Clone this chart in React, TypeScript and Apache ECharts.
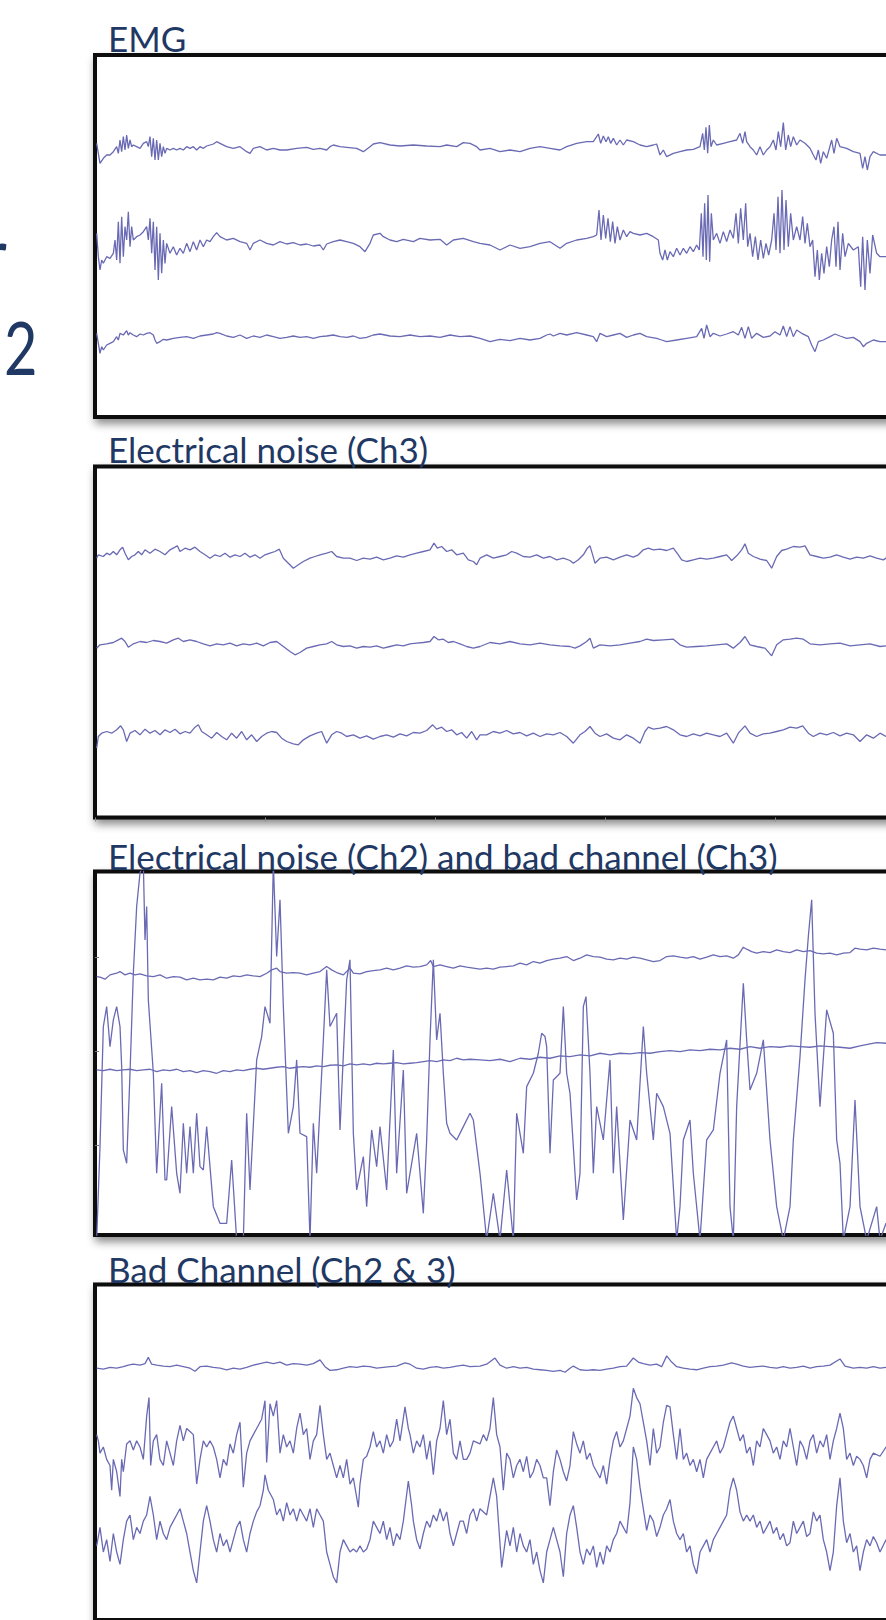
import React, { useEffect, useRef } from "react";
import * as echarts from "echarts";

// Sampled at 510 Hz; x = sample index, y = amplitude (µV) around each channel's baseline
const SAMPLE_RATE = 510;
const SECONDS = 5;

const panelTitles = [
  "EMG",
  "Electrical noise (Ch3)",
  "Electrical noise (Ch2) and bad channel (Ch3)",
  "Bad Channel (Ch2 & 3)",
];
const sideLabels = ["r", "2"];

// ---------- Panel 1: EMG ----------
const emgCh1 = [
  [5,15],[10,-15],[15,-45],[25,-30],[35,-20],[45,-20],[55,-10],[65,5],[70,-15],[75,25],[80,-10],[85,35],[90,-5],[95,40],[100,0],[105,25],[110,5],[115,10],[125,5],[135,0],[145,15],[155,20],[160,5],[165,35],[170,-25],[175,30],[180,-35],[185,25],[190,-35],[195,15],[200,-25],[205,5],[210,-15],[215,0],[225,-5],[235,0],[245,-5],[255,0],[265,-5],[275,5],[285,0],[295,5],[305,-5],[315,5],[325,0],[335,7],[355,13],[365,20],[375,15],[395,5],[415,0],[435,5],[455,-10],[465,-15],[475,0],[495,5],[515,-5],[535,0],[555,-5],[575,-5],[605,0],[635,3],[655,-3],[675,0],[695,-5],[705,5],[715,10],[735,5],[755,3],[785,0],[805,-10],[825,5],[835,13],[855,17],[885,10],[915,7],[955,10],[995,7],[1035,5],[1055,10],[1085,5],[1105,17],[1125,15],[1145,5],
  [1155,-5],[1185,0],[1215,-10],[1245,-5],[1275,-10],[1305,0],[1335,5],[1365,0],[1395,-5],[1415,5],[1445,15],[1475,20],[1495,20],[1510,43],[1517,15],[1525,37],[1533,20],[1540,35],[1547,15],[1555,30],[1565,10],[1575,25],[1585,10],[1595,25],[1615,20],[1635,10],[1655,5],[1675,10],[1685,13],[1695,-20],[1705,-5],[1715,-25],[1735,-15],[1755,-10],[1775,-5],[1795,-3],[1815,5],[1823,45],[1828,-5],[1833,63],[1838,-15],[1843,70],[1848,5],[1855,25],[1865,10],[1885,15],[1905,20],[1925,25],[1935,45],[1943,15],[1950,50],[1955,20],[1965,5],[1975,-5],[1985,-20],[1995,5],[2005,-20],[2015,-5],[2025,5],[2035,25],[2043,-5],[2050,50],[2057,5],[2065,77],[2072,-5],[2080,40],[2087,5],[2095,35],[2105,10],[2115,25],[2130,15],[2145,0],[2155,-20],[2163,-35],[2170,-5],[2177,-45],[2185,-10],[2195,-30],[2210,25],[2217,-15],[2225,30],[2235,5],[2255,0],[2275,-10],[2295,-15],[2303,-60],[2310,-25],[2317,-65],[2325,-25],[2335,-10],[2355,-20],[2373,-20],[2400,-15],
];
const emgCh2 = [
  [5,30],[10,-40],[15,-80],[20,-50],[25,-60],[35,-40],[45,-45],[55,-30],[60,10],[65,-50],[70,65],[75,-60],[80,80],[85,-40],[90,50],[95,10],[100,95],[105,-10],[110,50],[115,10],[125,20],[135,25],[145,35],[155,50],[160,10],[165,75],[170,-30],[175,65],[180,-80],[185,50],[190,-110],[195,30],[200,-90],[205,10],[210,-60],[215,0],[225,-30],[235,-10],[245,-35],[255,-15],[265,-30],[275,0],[285,-25],[295,5],[305,-20],[315,10],[325,-10],[335,10],[345,5],[355,20],[365,32],[375,20],[395,10],[415,15],[435,5],[455,0],[465,-20],[475,0],[495,10],[515,0],[535,-5],[555,5],[575,-2],[595,2],[615,-5],[635,-2],[655,-8],[675,-5],[685,-20],[695,-2],[715,5],[735,10],[755,5],[775,0],[795,-10],[810,-25],[825,0],[835,25],[855,30],[865,20],[885,10],[905,5],[925,12],[955,5],[975,15],[1005,10],[1035,12],[1055,-5],[1075,10],[1105,15],[1135,5],[1155,0],
  [1185,-5],[1215,-20],[1245,-5],[1275,-15],[1305,-10],[1335,0],[1365,5],[1395,-15],[1415,0],[1445,10],[1475,15],[1495,20],[1505,25],[1512,100],[1518,10],[1525,85],[1532,15],[1539,75],[1546,5],[1553,65],[1560,0],[1567,50],[1575,10],[1585,40],[1595,20],[1605,35],[1615,30],[1635,25],[1655,30],[1675,20],[1690,10],[1695,-30],[1703,-50],[1710,-20],[1717,-50],[1725,-25],[1735,-40],[1745,-15],[1755,-35],[1765,-15],[1775,-30],[1785,-10],[1795,-25],[1805,-5],[1813,-20],[1819,90],[1824,-40],[1829,120],[1834,-50],[1839,145],[1844,-55],[1849,90],[1855,10],[1865,30],[1875,0],[1885,35],[1895,5],[1905,40],[1915,15],[1923,90],[1930,0],[1937,105],[1945,10],[1952,120],[1958,-10],[1965,30],[1973,-40],[1981,20],[1989,-50],[1997,10],[2005,-45],[2013,0],[2021,-35],[2030,10],[2037,90],[2043,-20],[2049,140],[2055,-30],[2061,160],[2067,-20],[2073,130],[2080,-10],[2087,90],[2095,10],[2105,50],[2115,10],[2123,80],[2130,0],[2137,60],[2145,-10],[2153,10],[2160,-100],[2167,-20],[2173,-110],[2180,-30],[2187,-90],[2195,-10],[2203,-70],[2210,10],[2217,50],[2223,-70],[2229,65],[2235,-80],[2243,30],[2250,-40],[2260,0],[2275,-20],[2290,-10],[2297,-130],[2303,20],[2310,-140],[2317,10],[2325,-90],[2333,25],[2345,-30],[2355,-40],[2373,-40],[2400,-30],
];
const emgCh3 = [
  [5,10],[10,-20],[15,-50],[20,-30],[25,-40],[35,-25],[45,-20],[55,-15],[65,0],[70,-10],[75,10],[85,5],[95,18],[100,5],[105,12],[115,5],[125,0],[135,8],[145,5],[155,10],[165,12],[175,5],[180,-10],[185,-20],[195,-15],[205,-8],[215,-10],[235,-5],[255,-2],[275,0],[295,-5],[315,2],[335,5],[355,8],[365,12],[375,10],[395,2],[415,-2],[435,5],[455,-5],[475,2],[495,-2],[515,5],[535,0],[555,-5],[575,-2],[595,2],[615,-2],[635,0],[655,-5],[675,0],[695,2],[715,5],[735,0],[755,-2],[775,2],[795,-5],[815,-2],[835,5],[855,8],[885,2],[915,0],[945,5],[975,0],[1005,2],[1035,-2],[1065,5],[1095,0],[1125,2],[1155,-5],
  [1185,-15],[1215,-8],[1245,-12],[1275,-5],[1305,-10],[1335,-5],[1355,5],[1365,8],[1375,2],[1395,10],[1415,5],[1445,12],[1475,5],[1495,0],[1505,-15],[1515,10],[1535,0],[1555,5],[1575,10],[1595,-2],[1615,5],[1635,10],[1655,0],[1685,-5],[1700,-10],[1715,-15],[1745,-10],[1775,-5],[1805,0],[1820,25],[1827,-5],[1835,35],[1845,0],[1855,10],[1875,2],[1895,8],[1915,15],[1930,5],[1940,28],[1950,-5],[1960,30],[1970,-5],[1985,10],[2005,-2],[2025,2],[2040,15],[2055,5],[2065,32],[2075,0],[2085,30],[2095,0],[2105,20],[2120,10],[2140,0],[2150,-25],[2160,-45],[2170,-15],[2185,-10],[2205,0],[2220,8],[2235,2],[2255,-5],[2275,-2],[2295,-15],[2305,-30],[2315,-20],[2335,-10],[2355,-15],[2373,-15],[2400,-10],
];

// ---------- Panel 2: electrical noise (Ch3) ----------
const noiseCh1 = [
  [5,-10],[10,0],[25,-5],[35,5],[45,0],[55,10],[65,0],[75,15],[83,23],[90,5],[100,-15],[110,-5],[120,0],[130,10],[140,0],[150,15],[165,5],[180,17],[195,10],[210,0],[225,15],[240,23],[247,27],[255,10],[270,20],[285,15],[300,23],[315,10],[330,0],[345,-10],[360,0],[375,-5],[390,5],[405,-7],[420,0],[435,-5],[450,5],[465,-7],[480,0],[495,-10],[510,0],[525,5],[540,10],[553,17],[565,-10],[580,-25],[595,-40],[610,-30],[625,-20],[645,-10],[660,-5],[675,0],[695,5],[710,10],[725,-5],[745,-10],[765,-10],[785,-17],[805,-10],[825,-13],[845,-7],[865,-15],[885,-10],[905,-3],[925,-7],[945,0],[965,5],[985,10],[1005,15],[1017,35],[1027,20],[1040,25],[1055,10],[1070,15],[1085,0],[1105,5],[1120,-15],[1135,-20],[1145,-30],[1155,-10],
  [1175,0],[1195,-10],[1215,-5],[1235,0],[1250,10],[1265,5],[1285,-5],[1305,-7],[1325,0],[1345,-10],[1365,-5],[1385,-15],[1405,-10],[1425,-17],[1435,-25],[1450,-15],[1465,0],[1477,20],[1485,27],[1493,0],[1500,-25],[1515,-10],[1535,-7],[1555,-15],[1575,-7],[1595,0],[1615,-7],[1630,0],[1645,15],[1660,20],[1675,15],[1695,17],[1715,13],[1735,20],[1750,0],[1760,-15],[1775,-20],[1795,-15],[1815,-10],[1835,-13],[1855,-10],[1875,-5],[1895,0],[1910,-17],[1925,-3],[1940,15],[1950,33],[1960,5],[1975,-5],[1995,-13],[2015,-17],[2030,-40],[2045,-5],[2060,13],[2075,17],[2095,25],[2115,23],[2130,27],[2145,0],[2165,-5],[2185,-10],[2205,-7],[2225,0],[2245,-7],[2265,-13],[2285,-7],[2305,-10],[2325,-3],[2345,-10],[2365,-15],[2373,-10],[2400,-5],
];
const noiseCh2 = [
  [5,-10],[15,0],[35,3],[55,7],[70,15],[80,20],[90,10],[100,-7],[115,3],[135,10],[155,7],[175,13],[195,10],[215,5],[235,15],[250,20],[265,10],[285,15],[305,10],[325,3],[345,-3],[365,3],[385,0],[405,5],[425,-3],[445,3],[465,0],[485,5],[505,-3],[525,7],[545,10],[565,-5],[585,-20],[600,-30],[615,-23],[635,-10],[655,-5],[675,0],[695,3],[710,10],[725,0],[745,-5],[765,-3],[785,-10],[805,-5],[825,-7],[845,-3],[865,-10],[885,-5],[905,0],[925,-3],[945,3],[965,5],[985,7],[1005,10],[1017,25],[1030,15],[1045,17],[1060,7],[1075,10],[1095,3],[1115,-5],[1135,-10],[1155,-5],
  [1185,7],[1215,3],[1245,10],[1275,3],[1305,0],[1335,5],[1365,0],[1395,-3],[1425,-5],[1440,-10],[1455,-3],[1475,10],[1485,20],[1495,-10],[1515,0],[1545,-3],[1575,0],[1605,5],[1635,10],[1655,17],[1675,13],[1705,15],[1735,17],[1755,0],[1775,-7],[1805,-5],[1835,-3],[1865,0],[1895,3],[1915,-10],[1935,7],[1950,25],[1965,0],[1985,-5],[2010,-10],[2030,-33],[2045,0],[2065,15],[2085,17],[2105,20],[2125,17],[2145,3],[2175,0],[2205,3],[2235,5],[2265,-3],[2295,0],[2325,3],[2355,-5],[2373,-3],[2400,0],
];
const noiseCh3 = [
  [5,-45],[10,-10],[20,0],[35,5],[50,0],[65,10],[77,22],[85,10],[95,-25],[105,0],[120,8],[135,-5],[150,12],[165,0],[180,8],[195,-5],[210,10],[225,2],[240,12],[255,-2],[270,5],[285,0],[300,18],[310,25],[320,5],[335,-5],[350,-15],[365,2],[380,-10],[395,-20],[410,0],[425,-15],[440,5],[455,-20],[470,-5],[485,-25],[500,-10],[515,0],[530,5],[545,2],[560,-15],[575,-25],[595,-32],[610,-35],[625,-20],[645,-8],[665,0],[680,5],[695,-30],[710,-5],[725,5],[740,0],[755,-10],[775,-5],[795,-15],[815,-8],[835,-18],[855,-10],[875,-5],[895,-12],[915,-2],[935,-8],[955,2],[975,0],[995,8],[1013,25],[1025,12],[1040,18],[1055,5],[1070,10],[1085,-5],[1100,2],[1115,-15],[1130,5],[1145,-20],[1155,-5],
  [1175,-5],[1195,5],[1215,0],[1235,8],[1255,-2],[1275,2],[1295,-8],[1315,0],[1335,-10],[1355,-2],[1375,-5],[1395,2],[1415,-10],[1435,-30],[1455,-5],[1470,5],[1485,20],[1500,0],[1515,-10],[1535,-2],[1555,-15],[1575,-20],[1595,-5],[1615,-15],[1635,-30],[1650,5],[1660,18],[1675,12],[1695,15],[1715,20],[1735,10],[1755,-5],[1775,-10],[1795,-2],[1815,-8],[1835,0],[1855,-5],[1875,-10],[1895,0],[1915,-30],[1930,0],[1950,22],[1965,0],[1985,-10],[2005,-2],[2025,0],[2045,5],[2065,10],[2085,18],[2105,15],[2123,22],[2140,0],[2155,-10],[2175,0],[2195,-5],[2215,2],[2235,-8],[2255,0],[2275,-5],[2295,-25],[2315,-5],[2335,-15],[2355,0],[2373,-10],[2400,-5],
];

// ---------- Panel 3: electrical noise (Ch2) + bad channel (Ch3) ----------
const mixedCh1 = [
  [5,0],[15,-2],[30,-8],[45,5],[65,10],[75,15],[90,5],[105,10],[120,5],[135,8],[155,2],[175,0],[195,5],[215,-5],[235,0],[255,-2],[275,-10],[295,-5],[315,-10],[335,-8],[355,-10],[375,-2],[395,-5],[415,2],[435,0],[455,5],[475,2],[495,0],[515,10],[530,20],[545,25],[555,15],[575,10],[595,12],[615,10],[635,5],[655,10],[675,15],[695,30],[710,20],[725,12],[745,5],[765,25],[775,10],[795,8],[815,15],[835,18],[855,20],[875,25],[895,20],[915,25],[935,32],[955,28],[975,30],[995,35],[1007,48],[1015,30],[1035,35],[1055,30],[1075,25],[1095,32],[1115,28],[1135,25],[1155,22],
  [1175,25],[1195,22],[1215,28],[1235,30],[1255,32],[1275,40],[1295,35],[1315,45],[1335,40],[1355,48],[1375,52],[1395,55],[1415,60],[1435,48],[1455,55],[1475,65],[1495,60],[1515,58],[1535,52],[1555,50],[1575,55],[1595,52],[1615,58],[1635,55],[1655,50],[1675,45],[1695,48],[1715,60],[1735,62],[1755,58],[1775,55],[1795,60],[1815,52],[1835,58],[1855,65],[1875,60],[1895,62],[1915,55],[1930,65],[1945,88],[1955,82],[1970,75],[1985,70],[2005,75],[2025,72],[2045,80],[2065,75],[2085,72],[2105,80],[2125,75],[2145,78],[2165,70],[2185,68],[2205,70],[2225,65],[2245,70],[2265,72],[2280,85],[2295,82],[2315,80],[2335,85],[2355,82],[2373,80],[2400,82],
];
const mixedCh2 = [
  [5,0],[25,-2],[45,2],[65,-2],[85,0],[105,2],[125,-2],[145,0],[165,2],[185,-5],[205,0],[225,-2],[245,2],[265,-5],[285,-2],[305,-8],[325,-2],[345,-5],[365,-10],[385,-2],[405,-5],[425,0],[445,-2],[465,2],[485,5],[505,2],[525,5],[545,8],[565,10],[585,5],[605,8],[625,10],[645,8],[665,12],[685,10],[705,14],[725,15],[745,12],[765,18],[785,15],[805,18],[825,15],[845,20],[865,18],[885,20],[905,22],[925,18],[945,20],[965,22],[985,25],[1005,28],[1025,25],[1045,30],[1065,28],[1085,35],[1105,30],[1125,32],[1155,30],
  [1185,28],[1215,32],[1245,25],[1275,35],[1305,32],[1335,38],[1365,35],[1395,42],[1425,40],[1455,45],[1485,42],[1515,50],[1545,45],[1575,50],[1605,48],[1635,52],[1665,50],[1695,55],[1725,58],[1755,55],[1785,60],[1815,58],[1845,62],[1875,60],[1905,65],[1935,62],[1965,70],[1995,65],[2025,70],[2055,68],[2085,72],[2115,70],[2145,68],[2175,72],[2205,70],[2235,68],[2265,65],[2295,72],[2325,78],[2345,82],[2373,80],[2400,80],
];
const mixedCh3 = [
  [5,-300],[15,-20],[25,340],[35,400],[45,280],[55,360],[65,400],[75,340],[80,220],[85,-30],[95,-70],[105,200],[115,500],[125,700],[135,800],[145,830],[150,600],[155,700],[160,420],[175,200],[185,-100],[200,170],[210,-120],[215,-120],[230,100],[245,-100],[255,-160],[265,50],[275,-100],[285,40],[295,-100],[305,80],[315,-80],[325,-90],[335,40],[355,-200],[375,-250],[395,-250],[410,-60],[425,-300],[445,-300],[455,80],[465,-150],[485,240],[500,310],[510,400],[525,350],[535,830],[545,550],[555,720],[565,400],[580,20],[595,100],[605,240],[615,20],[635,10],[645,-300],[655,50],[665,-100],[685,300],[695,510],[705,340],[725,380],[735,30],[755,480],[765,540],[775,20],[785,-150],[805,-50],[815,-200],[830,30],[845,-80],[855,40],[875,-150],[895,270],[905,-100],[925,210],[935,-160],[945,-100],[965,20],[985,-220],[995,0],[1005,300],[1015,540],[1025,300],[1035,380],[1045,200],[1055,50],[1065,20],[1085,0],[1105,40],[1125,80],[1135,60],[1155,-100],
  [1175,-300],[1195,-160],[1215,-300],[1235,-90],[1255,-300],[1265,80],[1285,-40],[1295,160],[1315,200],[1330,260],[1340,320],[1350,310],[1355,280],[1365,-40],[1375,180],[1395,200],[1405,400],[1415,200],[1425,140],[1445,-180],[1455,-100],[1465,400],[1473,430],[1485,200],[1495,-100],[1505,100],[1525,0],[1545,240],[1555,-100],[1565,100],[1585,-240],[1605,60],[1625,0],[1645,340],[1655,200],[1675,0],[1685,140],[1705,100],[1725,20],[1745,-300],[1755,-200],[1765,0],[1785,60],[1795,-100],[1815,-300],[1835,0],[1855,30],[1875,200],[1895,300],[1905,-200],[1915,-300],[1925,100],[1945,470],[1955,300],[1965,150],[1985,200],[2005,300],[2025,0],[2045,-200],[2065,-300],[2085,-200],[2095,0],[2115,250],[2130,480],[2140,610],[2150,720],[2160,380],[2175,100],[2195,390],[2215,320],[2225,0],[2235,-70],[2245,-300],[2265,-200],[2280,120],[2295,-200],[2315,-300],[2345,-200],[2355,-300],[2373,-250],[2400,-300],
];

// ---------- Panel 4: bad channel (Ch2 & 3) ----------
const badCh1 = [
  [5,-5],[25,-8],[45,-2],[65,-5],[85,0],[100,5],[115,8],[135,5],[150,10],[160,30],[170,8],[185,5],[205,2],[225,0],[245,5],[265,0],[285,-5],[300,-15],[315,0],[335,2],[355,-2],[375,-5],[395,-10],[415,-5],[435,-8],[455,-2],[475,5],[495,10],[515,15],[535,10],[555,15],[575,5],[595,10],[615,8],[635,5],[655,10],[675,22],[690,0],[705,-12],[725,-10],[745,-5],[765,0],[785,-2],[805,2],[825,0],[845,-5],[865,-2],[885,0],[905,2],[930,12],[945,8],[965,-5],[985,-8],[1005,-2],[1025,0],[1045,-5],[1065,-2],[1085,2],[1105,5],[1125,0],[1155,2],
  [1175,8],[1200,28],[1215,5],[1235,-5],[1255,0],[1275,-5],[1295,-2],[1315,-8],[1335,-10],[1355,-12],[1375,-15],[1395,-12],[1410,-18],[1425,-5],[1435,2],[1455,-10],[1475,-12],[1495,-10],[1515,-12],[1535,-8],[1555,-5],[1575,0],[1595,2],[1615,28],[1630,15],[1645,10],[1665,5],[1685,8],[1700,0],[1715,35],[1730,15],[1745,0],[1765,-5],[1785,-8],[1805,-10],[1825,-5],[1845,0],[1865,2],[1885,5],[1910,12],[1925,8],[1945,2],[1965,-2],[1985,0],[2005,2],[2025,-2],[2045,-5],[2065,0],[2085,-5],[2105,-2],[2125,2],[2145,-5],[2165,0],[2185,2],[2205,5],[2235,25],[2250,2],[2275,-5],[2295,-2],[2315,-5],[2335,0],[2355,-5],[2373,-2],[2400,0],
];
const badCh2 = [
  [5,40],[10,20],[15,-20],[25,0],[35,-40],[45,-60],[50,-140],[55,-40],[65,-80],[75,-160],[80,-40],[85,-80],[95,10],[105,20],[115,-10],[125,20],[135,0],[145,-40],[155,100],[162,160],[167,-60],[175,20],[185,40],[195,-40],[205,-60],[215,20],[225,-20],[235,-60],[245,20],[255,70],[265,20],[275,60],[285,50],[295,40],[305,-120],[315,-40],[325,20],[335,0],[345,20],[355,0],[365,-40],[375,-100],[385,-40],[395,-60],[405,10],[415,-20],[425,40],[435,80],[445,-130],[455,-20],[465,20],[475,40],[485,60],[495,80],[500,90],[510,150],[515,-50],[525,140],[535,100],[545,150],[555,-20],[565,40],[575,0],[585,20],[595,-20],[605,60],[615,110],[625,40],[635,60],[645,-40],[655,20],[665,40],[675,135],[685,40],[695,-40],[705,-20],[715,-60],[725,-100],[735,-60],[745,-100],[755,-40],[765,-120],[775,-100],[790,-195],[795,-120],[805,-40],[815,-30],[825,0],[835,50],[845,0],[855,20],[865,-20],[875,40],[885,0],[895,20],[905,90],[915,20],[930,130],[940,60],[945,40],[955,-20],[965,20],[975,0],[985,40],[995,-40],[1005,20],[1015,-90],[1025,20],[1035,60],[1045,150],[1055,40],[1065,90],[1075,-20],[1085,-40],[1095,20],[1105,-40],[1115,-40],[1125,-20],[1135,20],[1155,10],
  [1165,40],[1175,20],[1185,60],[1195,160],[1205,40],[1215,0],[1225,-140],[1235,-20],[1245,-40],[1255,-100],[1265,-60],[1275,-40],[1285,-80],[1295,-30],[1305,-100],[1315,-80],[1325,-40],[1335,-60],[1345,-100],[1355,-100],[1365,-190],[1375,-80],[1385,-10],[1395,-40],[1405,-80],[1415,-110],[1425,-60],[1435,50],[1445,10],[1455,-20],[1465,20],[1475,-40],[1485,-20],[1495,-60],[1505,-80],[1515,-100],[1525,-60],[1535,-120],[1545,-40],[1555,20],[1565,50],[1575,0],[1585,20],[1595,60],[1605,100],[1615,190],[1625,160],[1635,140],[1645,80],[1655,20],[1665,-60],[1675,60],[1685,-20],[1695,0],[1705,80],[1715,135],[1725,130],[1735,40],[1745,-40],[1755,60],[1765,-40],[1775,-20],[1785,-60],[1795,-40],[1805,-80],[1815,-40],[1825,-100],[1835,-40],[1845,-20],[1855,0],[1865,20],[1875,-20],[1885,0],[1895,40],[1905,80],[1915,100],[1925,60],[1935,20],[1945,40],[1955,-20],[1965,0],[1975,-60],[1985,20],[1995,0],[2005,60],[2015,40],[2025,20],[2035,-20],[2045,0],[2055,-40],[2065,20],[2075,0],[2085,60],[2095,0],[2105,-60],[2115,20],[2125,0],[2135,-40],[2145,20],[2155,40],[2165,-20],[2175,20],[2185,0],[2195,40],[2205,-40],[2215,20],[2225,60],[2235,110],[2245,60],[2255,-40],[2265,-20],[2275,-60],[2285,-30],[2295,-40],[2305,-60],[2315,-100],[2325,-40],[2335,-20],[2355,-30],[2373,0],[2400,-20],
];
const badCh3 = [
  [5,-30],[15,30],[25,-50],[35,-10],[45,-80],[55,10],[65,-50],[75,-90],[85,-10],[95,50],[105,70],[115,-10],[125,30],[135,10],[145,50],[155,70],[165,130],[175,70],[185,-10],[195,50],[205,10],[215,-10],[225,30],[235,50],[245,70],[255,90],[265,50],[275,10],[285,-50],[295,-110],[305,-150],[315,-50],[325,50],[335,100],[345,50],[355,-10],[365,-50],[375,10],[385,-30],[395,-10],[405,-50],[415,-10],[425,30],[435,50],[445,-10],[455,-50],[465,10],[475,50],[485,80],[495,100],[505,150],[510,200],[520,150],[535,120],[545,70],[555,90],[565,50],[575,110],[585,70],[595,90],[605,50],[615,90],[625,70],[635,50],[645,90],[655,30],[665,90],[675,70],[685,50],[695,-50],[705,-90],[715,-130],[725,-150],[735,-50],[745,-10],[755,-30],[765,-50],[775,-40],[785,-50],[795,-30],[805,-50],[815,-40],[825,-10],[835,50],[845,30],[855,10],[865,50],[875,-10],[885,30],[895,-30],[905,10],[915,-10],[925,50],[940,180],[950,100],[955,50],[965,-10],[975,-40],[985,10],[995,50],[1005,30],[1015,70],[1025,50],[1035,90],[1045,50],[1055,80],[1065,10],[1075,-30],[1085,10],[1095,50],[1105,50],[1115,10],[1125,70],[1135,90],[1145,50],[1155,90],
  [1175,70],[1195,190],[1205,130],[1220,-100],[1235,20],[1245,-30],[1255,30],[1265,-50],[1275,10],[1285,-30],[1295,-50],[1305,-10],[1315,-90],[1325,-50],[1335,-110],[1345,-150],[1355,-50],[1365,-10],[1375,30],[1385,-10],[1395,-50],[1405,-130],[1415,10],[1425,70],[1435,100],[1445,30],[1455,-50],[1465,-90],[1475,-40],[1485,-60],[1495,-30],[1505,-100],[1515,-50],[1525,-90],[1535,-30],[1545,-50],[1555,-10],[1565,10],[1575,50],[1585,30],[1595,10],[1605,110],[1615,290],[1625,250],[1635,160],[1645,90],[1655,20],[1665,70],[1675,50],[1685,0],[1695,30],[1705,70],[1715,90],[1725,120],[1735,50],[1745,10],[1755,-10],[1765,10],[1775,-50],[1785,-30],[1795,-90],[1805,-120],[1815,-50],[1825,-30],[1835,-10],[1845,-50],[1855,-10],[1865,10],[1875,30],[1885,50],[1895,70],[1905,150],[1915,190],[1925,150],[1935,80],[1945,50],[1955,70],[1965,50],[1975,70],[1985,30],[1995,50],[2005,10],[2015,30],[2025,50],[2035,10],[2045,30],[2055,-10],[2065,10],[2075,-30],[2085,-20],[2095,50],[2105,10],[2115,30],[2125,50],[2135,0],[2145,10],[2155,80],[2165,50],[2175,70],[2185,-10],[2195,-50],[2205,-110],[2215,-50],[2225,100],[2235,190],[2245,50],[2255,-20],[2265,10],[2275,-50],[2285,-30],[2295,-110],[2305,-50],[2315,-10],[2325,-30],[2335,0],[2345,-20],[2355,-50],[2373,-10],[2400,-30],
];

// Channel baselines (µV above each panel's floor) and panel amplitude ranges
const emgOffsets = [806, 521, 241];
const noiseOffsets = [788, 518, 253];
const mixedOffsets = [775, 495, 285];
const badOffsets = [820, 560, 270];
const panelRanges = [1086, 1053, 1090, 1086];
const mixedTickValues = [270, 552, 834];

const panelTraces = [
  [emgCh1, emgCh2, emgCh3],
  [noiseCh1, noiseCh2, noiseCh3],
  [mixedCh1, mixedCh2, mixedCh3],
  [badCh1, badCh2, badCh3],
];
const panelOffsets = [emgOffsets, noiseOffsets, mixedOffsets, badOffsets];

export default function App() {
  const ref = useRef<HTMLDivElement>(null);

  useEffect(() => {
    document.body.style.margin = "0";
    document.body.style.overflow = "hidden";
    if (!ref.current) return;
    const chart = echarts.init(ref.current, undefined, { renderer: "svg" });

    const TRACE = "#6a6ab4";
    const TITLE = "#1f3864";
    const layout = [
      { top: 55, height: 362 },
      { top: 466.5, height: 351 },
      { top: 871.5, height: 363.5 },
      { top: 1284.5, height: 362 },
    ];
    const titleY = [38, 448.5, 855.5, 1268.5];
    const showTopTicks = [false, true, false, true];

    const grid = layout.map((l) => ({
      show: true,
      left: 95,
      width: 850,
      top: l.top,
      height: l.height,
      backgroundColor: "#ffffff",
      borderColor: "#0a0a0a",
      borderWidth: 4,
      shadowColor: "rgba(0,0,0,0.45)",
      shadowBlur: 8,
      shadowOffsetX: 2,
      shadowOffsetY: 5,
    }));

    const xAxis = layout.map((_, i) => ({
      type: "value",
      gridIndex: i,
      position: "top",
      min: 0,
      max: SAMPLE_RATE * SECONDS,
      interval: SAMPLE_RATE,
      axisLine: { show: false },
      axisTick: {
        show: showTopTicks[i],
        inside: true,
        length: 4,
        lineStyle: { color: "#8a8a8a", width: 1 },
      },
      axisLabel: { show: false },
      splitLine: { show: false },
    }));

    const yAxis = layout.map((_, i) => ({
      type: "value",
      gridIndex: i,
      min: 0,
      max: panelRanges[i],
      interval: 282,
      axisLine: { show: false },
      axisTick: {
        show: i === 2,
        inside: true,
        length: 4,
        customValues: i === 2 ? mixedTickValues : undefined,
        lineStyle: { color: "#7a7a7a", width: 1 },
      },
      axisLabel: { show: false },
      splitLine: { show: false },
    }));

    const series: any[] = [];
    panelTraces.forEach((traces, p) => {
      traces.forEach((pts, c) => {
        const off = panelOffsets[p][c];
        series.push({
          type: "line",
          xAxisIndex: p,
          yAxisIndex: p,
          data: pts.map(([n, v]) => [n, v + off]),
          showSymbol: false,
          symbol: "none",
          clip: true,
          lineStyle: { color: TRACE, width: 1.3 },
          silent: true,
        });
      });
    });

    const graphic: any[] = panelTitles.map((t, i) => ({
      type: "text",
      x: 108,
      y: titleY[i],
      z: 100,
      style: {
        text: t,
        fill: TITLE,
        font: '35px Lato, "Noto Sans", sans-serif',
        verticalAlign: "middle",
        align: "left",
      },
    }));
    graphic.push({
      type: "text",
      x: -20,
      y: 252,
      z: 100,
      style: {
        text: sideLabels[0],
        fill: TITLE,
        font: '74px Lato, "Noto Sans", sans-serif',
        verticalAlign: "middle",
      },
    });
    graphic.push({
      type: "text",
      x: 4,
      y: 347,
      z: 100,
      scaleX: 0.78,
      style: {
        text: sideLabels[1],
        fill: TITLE,
        font: '74px Lato, "Noto Sans", sans-serif',
        verticalAlign: "middle",
      },
    });

    chart.setOption({
      animation: false,
      backgroundColor: "#ffffff",
      grid,
      xAxis,
      yAxis,
      series,
      graphic,
    });

    return () => chart.dispose();
  }, []);

  return (
    <div style={{ position: "absolute", left: 0, top: 0, width: 886, height: 1620, overflow: "hidden" }}>
      <div ref={ref} style={{ width: 960, height: 1620 }} />
    </div>
  );
}
